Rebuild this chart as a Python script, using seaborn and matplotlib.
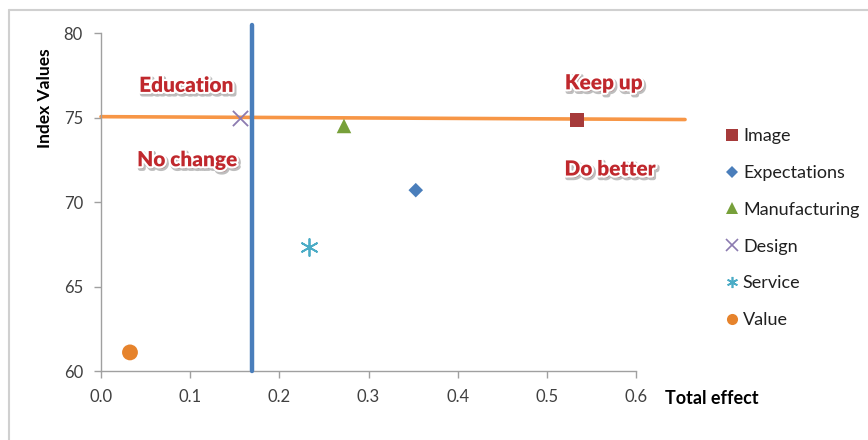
import matplotlib
matplotlib.use("Agg")
import matplotlib.pyplot as plt
import matplotlib.patheffects as pe
from matplotlib.lines import Line2D
import seaborn as sns
import pandas as pd

# Factor positions: total effect vs. index value
factors = ["Image", "Expectations", "Manufacturing", "Design", "Service", "Value"]
total_effect = [0.534, 0.353, 0.2725, 0.156, 0.233, 0.0325]
index_values = [74.85, 70.7, 74.5, 75.0, 67.35, 61.1]

colors = ["#a63a3a", "#4a7ebb", "#77a03a", "#8c7bb0", "#4bacc6", "#e6832c"]
markers = ["s", "D", "^", "x", (6, 2, 0), "o"]
sizes = [110, 55, 110, 120, 150, 130]

# Quadrant dividers
effect_cut = 0.169
index_cut_start, index_cut_end = 75.05, 74.88
line_right_end = 0.655

quadrant_labels = ["Education", "No change", "Keep up", "Do better"]
quadrant_x = [0.096, 0.097, 0.564, 0.571]
quadrant_y = [76.9, 72.5, 77.05, 71.95]

df = pd.DataFrame({"Factor": factors, "Total effect": total_effect,
                   "Index Values": index_values})

sns.set_theme(style="white")
plt.rcParams["font.family"] = ["Lato", "DejaVu Sans"]

fig = plt.figure(figsize=(8.68, 4.40), dpi=100)
ax = fig.add_axes([101 / 868, 69 / 440, 535 / 868, 338 / 440])

# Quadrant lines
ax.plot([0, line_right_end], [index_cut_start, index_cut_end], color="#f79646",
        lw=2.6, clip_on=False, zorder=2)
ax.plot([effect_cut, effect_cut], [60, 80.47], color="#4a7ebb", lw=3.2,
        clip_on=False, zorder=3)

for i, f in enumerate(factors):
    sub = df[df["Factor"] == f]
    m = markers[i]
    unfilled = m == "x" or isinstance(m, tuple)
    kw = dict(linewidth=1.3) if unfilled else dict(edgecolor="none")
    sns.scatterplot(data=sub, x="Total effect", y="Index Values", ax=ax,
                    color=colors[i], marker=m, s=sizes[i], legend=False,
                    zorder=4, **kw)

ax.set_xlim(0, 0.6)
ax.set_ylim(60, 80)
ax.set_xticks([0.0, 0.1, 0.2, 0.3, 0.4, 0.5, 0.6])
ax.set_xticklabels(["0.0", "0.1", "0.2", "0.3", "0.4", "0.5", "0.6"])
ax.set_yticks([60, 65, 70, 75, 80])
ax.set_xlabel("")
ax.set_ylabel("")
for side in ["top", "right"]:
    ax.spines[side].set_visible(False)
for side in ["left", "bottom"]:
    ax.spines[side].set_color("#a0a0a0")
    ax.spines[side].set_linewidth(1.0)
ax.tick_params(axis="both", direction="out", length=5, width=1.0,
               color="#a0a0a0", labelcolor="#404040", labelsize=12, pad=8,
               left=True, bottom=True)

# Quadrant captions with white outline and soft drop shadow
shadow = [pe.Stroke(linewidth=3.5, foreground="#8a8a8a", alpha=0.55, offset=(1.2, -1.6)),
          pe.Stroke(linewidth=3, foreground="white"), pe.Normal()]
for lab, x, y in zip(quadrant_labels, quadrant_x, quadrant_y):
    ax.text(x, y, lab, color="#c0282d", fontsize=15, fontweight="heavy",
            ha="center", va="center", path_effects=shadow, zorder=5)

ax.text(1.055, -0.08, "Total effect", transform=ax.transAxes, ha="left",
        va="center", fontsize=13, fontweight="bold", color="black")
fig.text(45 / 868, 1 - 98 / 440, "Index Values", rotation=90, ha="center",
         va="center", fontsize=12.5, fontweight="bold", color="black")

# Legend
handles = []
for i, f in enumerate(factors):
    m = markers[i]
    unfilled = m == "x" or isinstance(m, tuple)
    handles.append(Line2D([], [], linestyle="none", marker=m, color=colors[i],
                          markersize=8 if m != "D" else 6,
                          markeredgewidth=1.2 if unfilled else 0, label=f))
fig.legend(handles=handles, loc="upper left",
           bbox_to_anchor=(714 / 868, 1 - 121 / 440), frameon=False,
           fontsize=13, handletextpad=0.0, labelspacing=1.15,
           handlelength=1.2, borderaxespad=0, labelcolor="#202020")

# Chart area border
fig.add_artist(Line2D([9 / 868, 1], [1 - 10.5 / 440, 1 - 10.5 / 440],
                      transform=fig.transFigure, color="#d0d0d0", lw=1.5))
fig.add_artist(Line2D([9 / 868, 9 / 868], [0, 1 - 10.5 / 440],
                      transform=fig.transFigure, color="#d0d0d0", lw=1.5))

fig.savefig("out.png", dpi=100, facecolor="white")
